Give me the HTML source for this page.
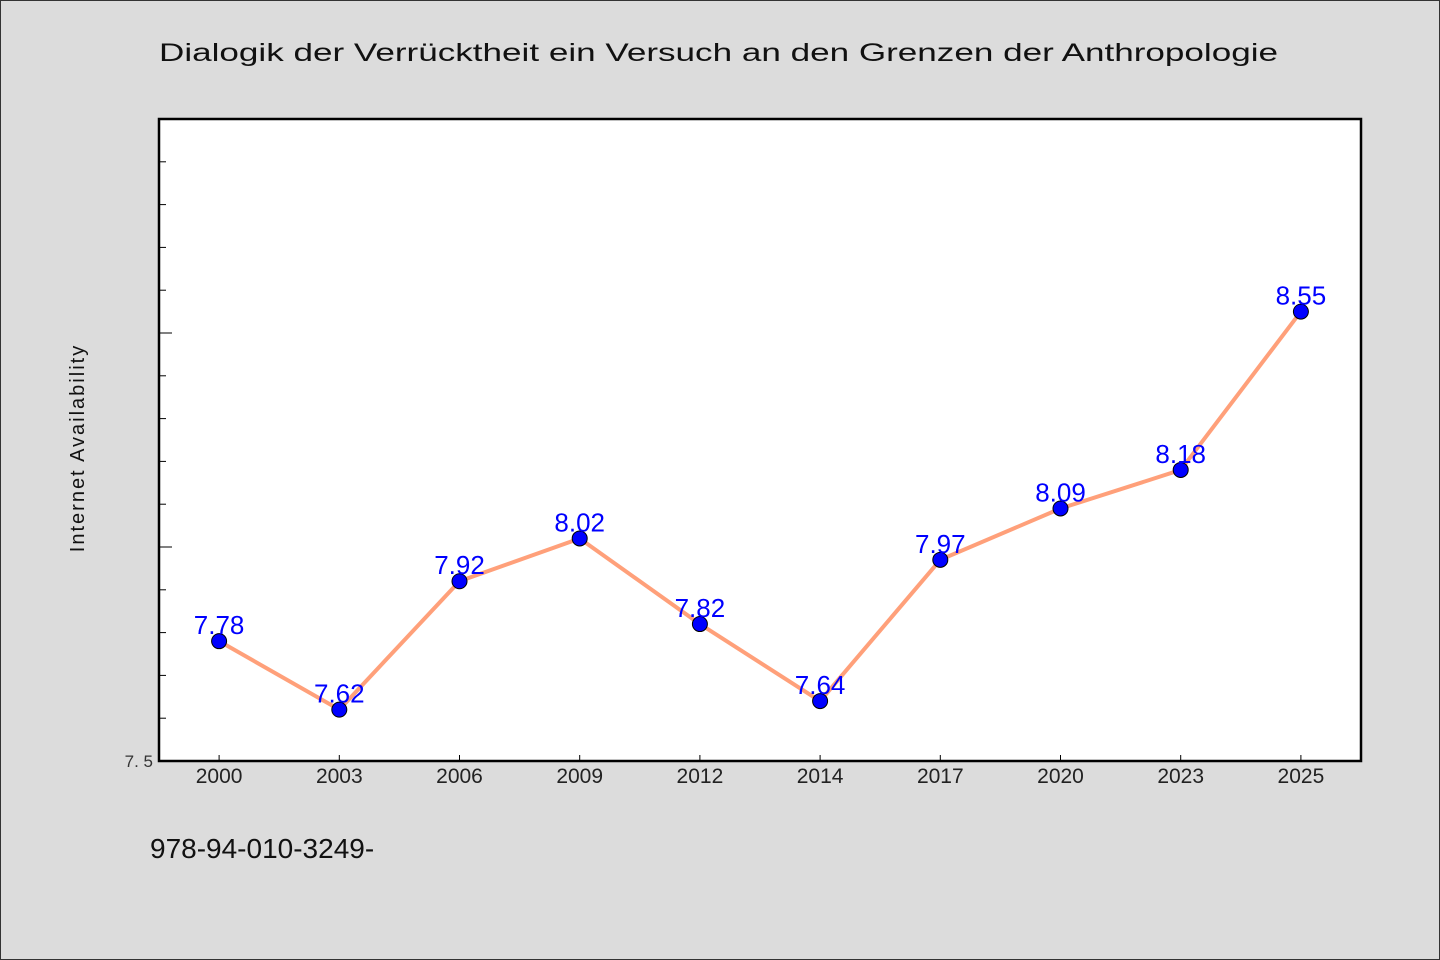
<!DOCTYPE html>
<html><head><meta charset="utf-8"><style>
html,body{margin:0;padding:0;background:#dcdcdc;}
svg{display:block;font-family:"WenQuanYi Zen Hei","Liberation Sans",sans-serif;}
</style></head><body>
<svg width="1440" height="960" id="c">
<rect x="0.5" y="0.5" width="1439" height="959" fill="#dcdcdc" stroke="#333"/>
<text x="159" y="61" font-size="25" textLength="1119" lengthAdjust="spacingAndGlyphs" fill="#111">Dialogik der Verrücktheit ein Versuch an den Grenzen der Anthropologie</text>
<rect x="159" y="119" width="1202" height="642" fill="#fff" stroke="#000" stroke-width="2.5"/>
<text transform="translate(84,448) rotate(-90)" text-anchor="middle" font-size="20" letter-spacing="2" fill="#111">Internet Availability</text>
<text x="150" y="858" font-size="28" fill="#111">978-94-010-3249-</text>
<g id="ticks"></g><g id="marks"></g>
</svg>
<script>
const categories=["2000","2003","2006","2009","2012","2014","2017","2020","2023","2025"];
const values=[7.78,7.62,7.92,8.02,7.82,7.64,7.97,8.09,8.18,8.55];
const yTickLabels=["7.5"];
const yMin=7.5,yMax=9.0;
const L=159,R=1361,T=119,B=761;
const NS="http://www.w3.org/2000/svg";
const band=(R-L)/categories.length;
const xs=i=>L+band/2+i*band;
const ys=v=>B-(v-yMin)/(yMax-yMin)*(B-T);
function mk(tag,attrs,parent){const e=document.createElementNS(NS,tag);for(const k in attrs)e.setAttribute(k,attrs[k]);parent.appendChild(e);return e;}
const tg=document.getElementById('ticks'),mg=document.getElementById('marks');
for(let k=1;k<15;k++){const v=yMin+k*0.1;const y=ys(v);const major=k%5===0;
 const t=mk('line',{x1:L,x2:L+(major?13:7),y1:y,y2:y,stroke:'#000','stroke-width':1},tg);
 
 }
yTickLabels.forEach(s=>{const t=mk('text',{x:L-6,y:ys(parseFloat(s))+6,'text-anchor':'end','font-size':17,fill:'#333'},tg);t.textContent=s.split('').join(' ').replace(' . ','. ');
 
 });
categories.forEach((c,i)=>{const x=xs(i);
 const t=mk('line',{x1:x,x2:x,y1:B,y2:B-6,stroke:'#000','stroke-width':1},tg);
 
 
 const l=mk('text',{x:x,y:B+22,'text-anchor':'middle','font-size':21,fill:'#222'},tg);l.textContent=c;
 
 });
const pl=mk('polyline',{points:values.map((v,i)=>xs(i)+','+ys(v)).join(' '),fill:'none',stroke:'#ffa07a','stroke-width':4},mg);


values.forEach((v,i)=>{
 const c=mk('circle',{cx:xs(i),cy:ys(v),r:7.5,fill:'#0000ff',stroke:'#000','stroke-width':1},mg);
 
 
 const t=mk('text',{x:xs(i),y:ys(v)-7,'text-anchor':'middle','font-size':26,fill:'#0000ff'},mg);
 t.textContent=v.toFixed(2);
 
 });
</script>
</body></html>
